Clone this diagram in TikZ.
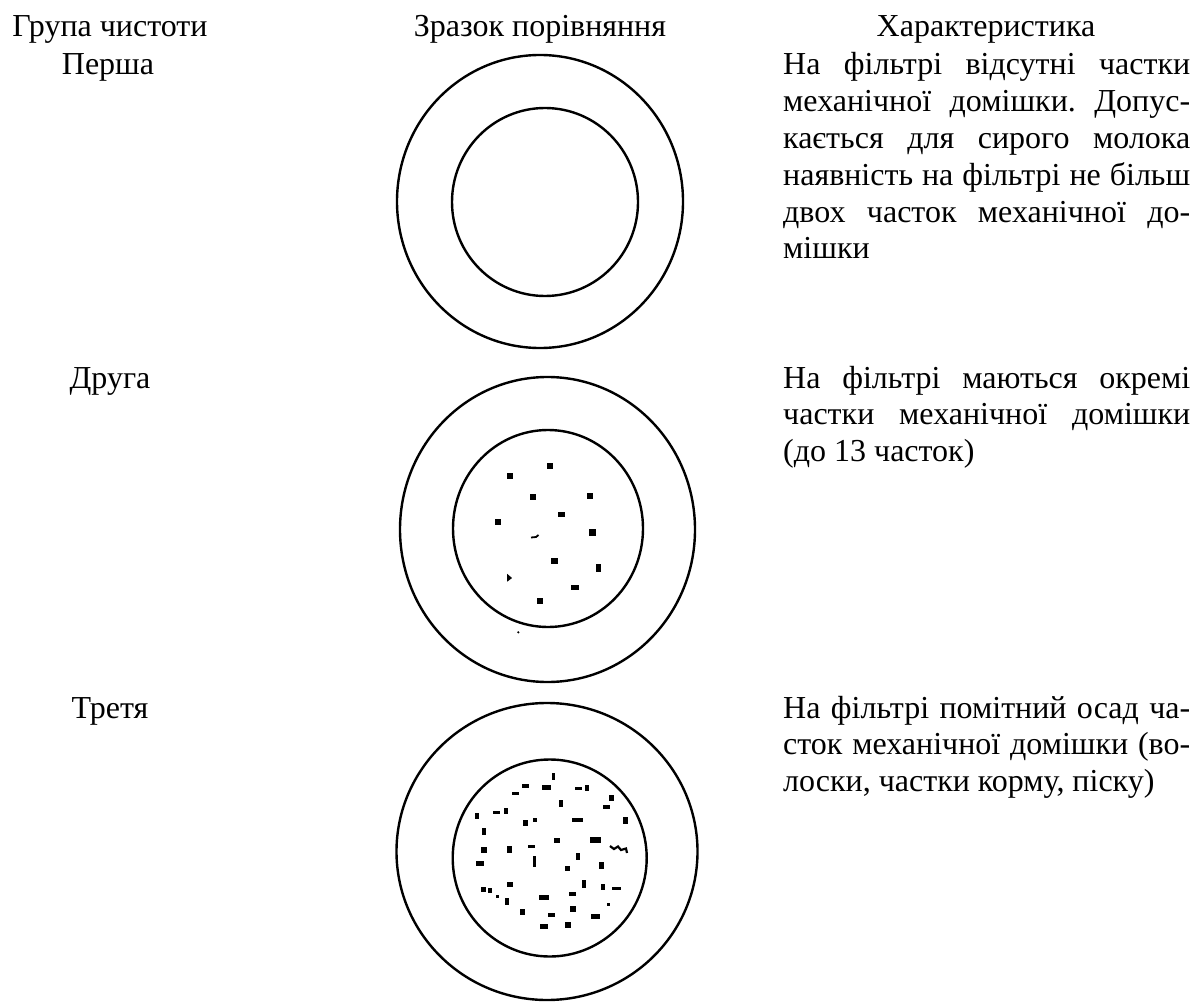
\documentclass[tikz,border=0pt]{standalone}
\usepackage{fontspec}
\setmainfont{Liberation Serif}
\newcommand\jl[1]{\hbox to 407pt{\frenchspacing\spaceskip=0.25em plus 1fil minus 0.12em\relax #1}}
\newcommand\nl[1]{\hbox{\frenchspacing #1}}
\begin{document}
\begin{tikzpicture}[x=1pt,y=-1pt,
  txt/.style={inner sep=0pt, font=\fontsize{32}{36.8}\selectfont},
  ring/.style={line width=2.4pt},
  spot/.style={fill=black, draw=black, line width=0.6pt}]
\fill[white] (0,0) rectangle (1196,1003);
\useasboundingbox (0,0) rectangle (1196,1003);

% headers
\node[txt, anchor=base] (h1) at (110,37) {Група чистоти};
\node[txt, anchor=base] (h2) at (540,37) {Зразок порівняння};
\node[txt, anchor=base] (h3) at (986,37) {Характеристика};

% group labels
\node[txt, anchor=base] (g1) at (108,75) {Перша};
\node[txt, anchor=base] (g2) at (110,388) {Друга};
\node[txt, anchor=base] (g3) at (110,718) {Третя};

% descriptions
\node[txt, anchor=base west] (d1) at (783,75) {\vtop{\hsize=407pt
  \jl{На фільтрі відсутні частки}
  \jl{механічної домішки. Допус-}
  \jl{кається для сирого молока}
  \jl{наявність на фільтрі не більш}
  \jl{двох часток механічної до-}
  \nl{мішки}}};
\node[txt, anchor=base west] (d2) at (783,388) {\vtop{\hsize=407pt
  \jl{На фільтрі маються окремі}
  \jl{частки механічної домішки}
  \nl{(до 13 часток)}}};
\node[txt, anchor=base west] (d3) at (783,718) {\vtop{\hsize=407pt
  \jl{На фільтрі помітний осад ча-}
  \jl{сток механічної домішки (во-}
  \nl{лоски, частки корму, піску)}}};

% sample 1
\draw[ring] (540,201.5) ellipse [x radius=143, y radius=146.5];
\draw[ring] (545,202) ellipse [x radius=93, y radius=94];

% sample 2
\draw[ring] (547.5,529.5) ellipse [x radius=147.5, y radius=152.5];
\draw[ring] (548,528.5) ellipse [x radius=95, y radius=98.5];
\foreach \x/\y/\w/\h in {550/465.7/5/5, 509.3/476/5/5, 532.3/496.7/5/5, 589.3/496/5/5,
  561.7/514.7/6/4, 497.3/521.3/5/5, 592/532/6/6, 554/560.3/6/5, 598.3/568/4/7,
  575/587/7/4, 540/600.3/5/5}
  \filldraw[spot] (\x-\w/2,\y-\h/2) rectangle (\x+\w/2,\y+\h/2);
\fill (518.3,632.3) circle [radius=1.2pt];
\draw[line width=1.8pt] (531,537.5) -- (536,537) -- (538.5,535);
\filldraw[spot] (507.5,574.5) -- (511.5,578) -- (507.5,581) -- cycle;

% sample 3
\draw[ring] (547,851.5) ellipse [x radius=150.5, y radius=148.5];
\draw[ring] (549.7,858) ellipse [x radius=97, y radius=98.5];
\foreach \x/\y/\w/\h in {553.3/776.5/2.5/6, 525.7/786/6/2.5, 546/787/8/4, 578/788.5/6/2.5,
  587/787.5/2.5/5, 515/793.5/6/2.5, 611.7/797.5/4/5, 561/803/2.5/6, 606.7/807/6/2.5,
  496.7/812.3/6/2.5, 506/811/2.5/5, 476.7/816/2.5/5, 577.7/820/10/2.5, 525.7/822.7/4/5,
  535/820/2.5/3, 625.7/820/4/6, 484/831.5/2.5/6, 556.7/840/5/4, 595/839.3/10/5,
  483.3/850/5/5, 509.3/849.3/4/6, 531/846.5/6/2.5, 577.5/856.7/3/6,
  534.2/861.7/2.5/10, 479.3/863/7/4, 601.7/865/4/6, 567.5/868.5/4/4, 509.5/884.5/5/4,
  583.3/884/3/7, 603/887/2.5/5, 616/888.5/8/2.5, 483.3/889.3/4/4, 490/890/2.5/4,
  572.7/893.7/6/2.5, 497.5/896.5/2/2, 543.3/897.5/9/4, 506.3/901.7/3/6, 608.3/904.3/2/2,
  572.7/908.3/5/5, 522/912/4/5, 551.7/914.7/6/2.5, 595.5/916/8/4, 543.3/926/7/4,
  567.7/924.3/5/5}
  \filldraw[spot] (\x-\w/2,\y-\h/2) rectangle (\x+\w/2,\y+\h/2);
\draw[line width=2.2pt] (610,846) -- (614,849) -- (618,846.5) -- (621,850) -- (626,848.5) -- (627,853);
\end{tikzpicture}
\end{document}
